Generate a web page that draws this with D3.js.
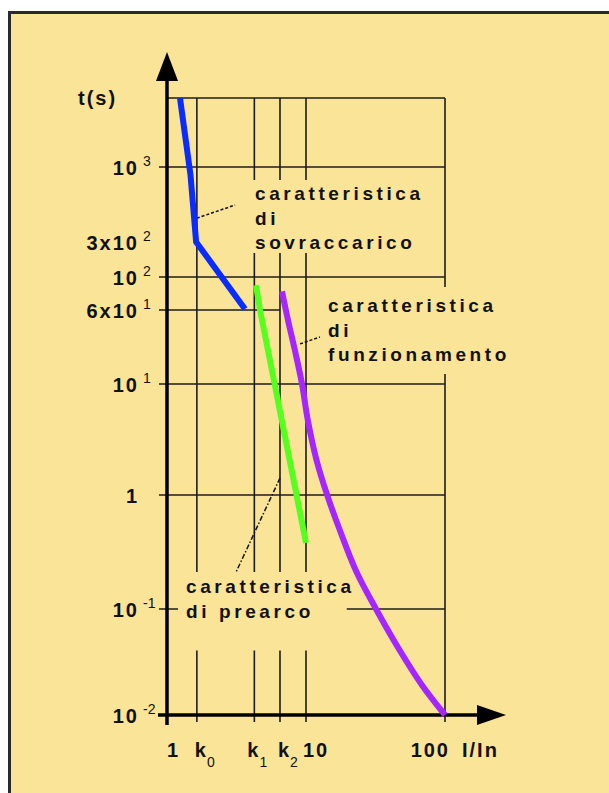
<!DOCTYPE html>
<html>
<head>
<meta charset="utf-8">
<script src="https://cdn.jsdelivr.net/npm/d3@7"></script>
<style>
  body { margin: 0; background: #fff; }
  text { font-family: "Liberation Sans", Arial, sans-serif; fill: #111; }
</style>
</head>
<body>
<div id="chart"></div>
<script>
// x axis: multiples of In
const kTicks = [1, 1.64, 4.25, 6.5, 10, 100]
const kMain = ["1", "k", "k", "k", "10", "100"]
const kSub = ["", "0", "1", "2", "", ""]

// y axis: time in seconds
const tTicks = [1000, 300, 100, 60, 10, 1, 0.1, 0.01]
const tMain = ["10", "3x10", "10", "6x10", "10", "1", "10", "10"]
const tSup = ["3", "2", "2", "1", "1", "", "-1", "-2"]
const tGrid = [true, false, true, true, true, true, true, false]
const tTop = 4300

// curves (I/In, t)
const overloadI = [1.24, 1.476, 1.62, 3.64]
const overloadT = [4300, 880, 300, 61]
const prearcI = [4.37, 4.67, 10]
const prearcT = [88, 60, 0.38]
const operI = [6.72, 7.42, 8.31, 9.36, 10.3, 11.9, 14.2, 17.5, 23.1, 31.9, 47.1, 68.2, 100]
const operT = [80, 47, 22.8, 10, 4.74, 2.07, 1, 0.493, 0.211, 0.1, 0.041, 0.0192, 0.01]

const width = 609
const height = 793

const svg = d3.select("#chart").append("svg")
    .attr("width", width)
    .attr("height", height)
    .attr("display", "block")

// panel
svg.append("rect")
    .attr("x", 9.5).attr("y", 12.5)
    .attr("width", 640).attr("height", 820)
    .attr("fill", "#fae497")
    .attr("stroke", "#2a2a2a")
    .attr("stroke-width", 3)

const x = d3.scaleLog().domain([1, 100]).range([167, 445])
// the drawing is schematic: decades are not quite even and 60 / 300 sit off a true log position
const y = d3.scaleLog()
    .domain([0.01, 0.1, 1, 10, 60, 100, 300, 1000, tTop])
    .range([715, 609, 495, 384, 310, 277, 242, 167, 98])

const gridColor = "#1c1c1c"
const grid = svg.append("g").attr("stroke", gridColor).attr("stroke-width", 1.6)

grid.append("line")
    .attr("x1", x(1)).attr("x2", x(100))
    .attr("y1", y(tTop)).attr("y2", y(tTop))

grid.selectAll(".v")
    .data(kTicks.slice(1))
    .join("line")
    .attr("class", "v")
    .attr("x1", d => x(d)).attr("x2", d => x(d))
    .attr("y1", y(tTop)).attr("y2", y(0.01) + 7)

const hLines = tTicks.filter((d, i) => tGrid[i])
grid.selectAll(".h")
    .data(hLines)
    .join("line")
    .attr("class", "h")
    .attr("x1", x(1) - 8)
    .attr("x2", d => d === 60 ? x(6.5) : x(100))
    .attr("y1", d => y(d)).attr("y2", d => y(d))

// annotations, each masks the grid behind it
const notes = [
    { lines: ["caratteristica", "di", "sovraccarico"], x: 255, y: 200, pad: [4, 3, 3, 0] },
    { lines: ["caratteristica", "di", "funzionamento"], x: 328, y: 312, pad: [4, 8, 3, 9] },
    { lines: ["caratteristica", "di prearco"], x: 186, y: 593, pad: [8, 4, -8, 29] }
]
const noteG = svg.append("g")
notes.forEach(n => {
    const g = noteG.append("g")
    const mask = g.append("rect").attr("fill", "#fae497")
    const t = g.append("text")
        .attr("font-size", 19)
        .attr("font-weight", "bold")
        .attr("letter-spacing", 3.6)
    n.lines.forEach((l, i) => {
        t.append("tspan").attr("x", n.x).attr("y", n.y + i * 24.5).text(l)
    })
    const b = t.node().getBBox()
    mask.attr("x", b.x - n.pad[0]).attr("y", b.y - n.pad[1])
        .attr("width", b.width + n.pad[0] + n.pad[2])
        .attr("height", b.height + n.pad[1] + n.pad[3])
})

// leader lines
const leaders = [
    { from: [1.64, 440], to: [3.09, 543], dash: "3,2" },
    { from: [9.06, 26.4], to: [12.6, 31.2], dash: "3,2" },
    { from: [6.5, 1.42], to: [3.14, 0.211], dash: "5,2,1.5,2" }
]
svg.append("g").selectAll("line")
    .data(leaders)
    .join("line")
    .attr("x1", d => x(d.from[0])).attr("y1", d => y(d.from[1]))
    .attr("x2", d => x(d.to[0])).attr("y2", d => y(d.to[1]))
    .attr("stroke", "#111")
    .attr("stroke-width", 1.5)
    .attr("stroke-dasharray", d => d.dash)

// axes
const axes = svg.append("g").attr("stroke", "#000").attr("stroke-width", 3.5)
axes.append("line")
    .attr("x1", x(1)).attr("x2", x(1))
    .attr("y1", 80).attr("y2", y(0.01) + 10)
axes.append("line")
    .attr("x1", x(1) - 9).attr("x2", 480)
    .attr("y1", y(0.01)).attr("y2", y(0.01))
svg.append("path")
    .attr("d", `M${x(1)},52 L${x(1) + 11},81 L${x(1) - 11},81 Z`)
    .attr("fill", "#000")
svg.append("path")
    .attr("d", `M506,${y(0.01)} L477,${y(0.01) - 10} L477,${y(0.01) + 10} Z`)
    .attr("fill", "#000")

// curves
const line = d3.line().x(d => x(d[0])).y(d => y(d[1]))
const curves = [
    { I: overloadI, T: overloadT, color: "#0a2cff", curve: d3.curveLinear },
    { I: prearcI, T: prearcT, color: "#55ff1e", curve: d3.curveLinear },
    { I: operI, T: operT, color: "#a526ff", curve: d3.curveCatmullRom.alpha(0.5) }
]
svg.append("g").selectAll("path")
    .data(curves)
    .join("path")
    .attr("d", c => line.curve(c.curve)(c.I.map((v, i) => [v, c.T[i]])))
    .attr("fill", "none")
    .attr("stroke", c => c.color)
    .attr("stroke-width", 6)

// y tick labels
const yl = svg.append("g").selectAll("g")
    .data(tTicks)
    .join("g")
yl.append("text")
    .attr("x", x(1) - 28)
    .attr("y", d => y(d) + 8)
    .attr("text-anchor", "end")
    .attr("font-size", 20)
    .attr("font-weight", "bold")
    .attr("letter-spacing", 2)
    .text((d, i) => tMain[i])
yl.append("text")
    .attr("x", x(1) - 24)
    .attr("y", d => y(d) - 1)
    .attr("font-size", 14)
    .text((d, i) => tSup[i])

// x tick labels
const xOff = [0, -2, -7, -2, -3, 0]
const xl = svg.append("g").selectAll("g")
    .data(kTicks)
    .join("g")
xl.append("text")
    .attr("x", (d, i) => d === 100 ? x(d) + 5 : x(d) + xOff[i])
    .attr("y", 757)
    .attr("text-anchor", d => d === 100 ? "end" : "start")
    .attr("font-size", 20)
    .attr("font-weight", "bold")
    .attr("letter-spacing", 2)
    .text((d, i) => kMain[i])
    .append("tspan")
    .attr("dy", 10)
    .attr("dx", -1)
    .attr("font-size", 14)
    .attr("font-weight", "normal")
    .attr("letter-spacing", 0)
    .text((d, i) => kSub[i])

svg.append("text")
    .attr("x", 78).attr("y", 105)
    .attr("font-size", 20).attr("font-weight", "bold").attr("letter-spacing", 2)
    .text("t(s)")
svg.append("text")
    .attr("x", 462).attr("y", 757)
    .attr("font-size", 20).attr("font-weight", "bold").attr("letter-spacing", 2)
    .text("I/In")
</script>
</body>
</html>
